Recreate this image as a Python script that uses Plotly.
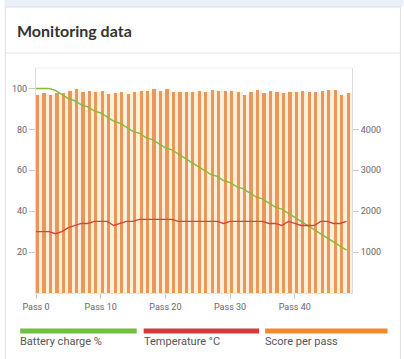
import plotly.graph_objects as go

# ---------------- data ----------------
passes = list(range(49))
battery = [100, 100, 100, 99, 97, 95, 94, 92, 91, 89, 88, 86, 84, 83, 81, 79, 78, 76,
           75, 73, 71, 70, 68, 66, 64, 62, 60, 58, 57, 55, 54, 52, 51, 49, 47, 46, 44,
           42, 41, 39, 37, 35, 33, 31, 29, 27, 25, 23, 21]
temperature = [30, 30, 30, 29, 30, 32, 33, 34, 34, 35, 35, 35, 33, 34, 35, 35, 36, 36,
               36, 36, 36, 36, 35, 35, 35, 35, 35, 35, 35, 34, 35, 35, 35, 35, 35, 35,
               34, 34, 33, 35, 34, 33, 33, 33, 35, 35, 34, 34, 35]
score = [4830, 4895, 4845, 4880, 4895, 4945, 4990, 4910, 4945, 4910, 4945, 4870, 4880,
         4925, 4860, 4925, 4945, 4945, 4980, 4945, 4975, 4925, 4925, 4910, 4910, 4930,
         4910, 4960, 4940, 4950, 4940, 4920, 4840, 4910, 4955, 4880, 4950, 4910, 4895,
         4925, 4905, 4935, 4905, 4915, 4930, 4970, 4970, 4850, 4890]
x_tick_vals = [0, 10, 20, 30, 40]
x_tick_text = ["Pass 0", "Pass 10", "Pass 20", "Pass 30", "Pass 40"]
left_ticks = [20, 40, 60, 80, 100]
right_ticks = [1000, 2000, 3000, 4000]
legend_labels = ["Battery charge %", "Temperature °C", "Score per pass"]
title_text = "Monitoring data"

# ---------------- style ----------------
W, H = 404, 359
L, R, T, B = 32, 52, 68, 66
PW, PH = W - L - R, H - T - B
GREEN, RED, ORANGE = "#72bf44", "#d03c3c", "#f08a2e"
BAR, CREAM = "#e9975a", "#fdf0da"
TICKFONT = dict(family="Roboto", size=9, color="#666")


def px(x):
    return (x - L) / PW


def py(y):
    return (H - B - y) / PH


fig = go.Figure()
fig.add_bar(x=passes, y=score, offset=0, width=0.5, marker=dict(color=BAR, line=dict(width=0)),
            yaxis="y", showlegend=False, hoverinfo="skip")
fig.add_bar(x=passes, y=score, offset=0.5, width=0.5, marker=dict(color=CREAM, line=dict(width=0)),
            yaxis="y", showlegend=False, hoverinfo="skip")
fig.add_scatter(x=passes, y=battery, mode="lines", line=dict(color="#84bb3a", width=1.4),
                yaxis="y2", showlegend=False)
fig.add_scatter(x=passes, y=temperature, mode="lines", line=dict(color="#d2443a", width=1.4),
                yaxis="y2", showlegend=False)

shapes = [
    dict(type="rect", xref="paper", yref="paper", x0=px(0), x1=px(W), y0=py(0), y1=py(7),
         fillcolor="#e9f0f8", line=dict(width=0), layer="below"),
    dict(type="rect", xref="paper", yref="paper", x0=px(1), x1=px(401), y0=py(7), y1=py(H + 5),
         fillcolor="white", line=dict(color="#dedede", width=1), layer="below"),
    dict(type="line", xref="paper", yref="paper", x0=px(1), x1=px(401), y0=py(53), y1=py(53),
         line=dict(color="#e2e2e2", width=1), layer="below"),
    dict(type="line", xref="paper", yref="paper", x0=0, x1=1, y0=1, y1=1,
         line=dict(color="#efefef", width=1), layer="below"),
]
annotations = [
    dict(text=title_text, xref="paper", yref="paper", x=px(11), y=py(30), xanchor="left",
         yanchor="middle", showarrow=False,
         font=dict(family="Lato", size=16, color="#333", weight="bold")),
]
legend_x = [(16, 134), (141, 258), (264, 388)]
for (x0, x1), col, lab in zip(legend_x, [GREEN, RED, ORANGE], legend_labels):
    shapes.append(dict(type="rect", xref="paper", yref="paper", x0=px(x0), x1=px(x1),
                       y0=py(333.5), y1=py(328.5), fillcolor=col, line=dict(width=0)))
    annotations.append(dict(text=lab, xref="paper", yref="paper", x=px(x0 - 2), y=py(341),
                            xanchor="left", yanchor="middle", showarrow=False,
                            font=dict(family="Roboto", size=11, color="#555")))

fig.update_layout(
    width=W, height=H, margin=dict(l=L, r=R, t=T, b=B, pad=0),
    paper_bgcolor="white", plot_bgcolor="rgba(0,0,0,0)",
    barmode="overlay", bargap=0, showlegend=False,
    shapes=shapes, annotations=annotations,
    xaxis=dict(range=[0, 48.85], tickvals=x_tick_vals, ticktext=x_tick_text,
               ticks="outside", ticklen=5, tickcolor="#c8c8c8", showline=True,
               linecolor="#e4e4e4", showgrid=False, zeroline=False, tickfont=TICKFONT),
    yaxis=dict(side="right", range=[0, 5500], tickvals=right_ticks, ticks="outside",
               ticklen=6, tickcolor="#c8c8c8", showline=True, linecolor="#dcdcdc",
               showgrid=False, zeroline=False, tickfont=TICKFONT),
    yaxis2=dict(overlaying="y", side="left", range=[0, 110], tickvals=left_ticks,
                ticks="outside", ticklen=6, tickcolor="#c8c8c8", showline=True,
                linecolor="#dcdcdc", showgrid=False, zeroline=False, tickfont=TICKFONT),
)

fig.write_html("out.html", config={"displayModeBar": False},
               post_script="document.body.style.margin='0';")
